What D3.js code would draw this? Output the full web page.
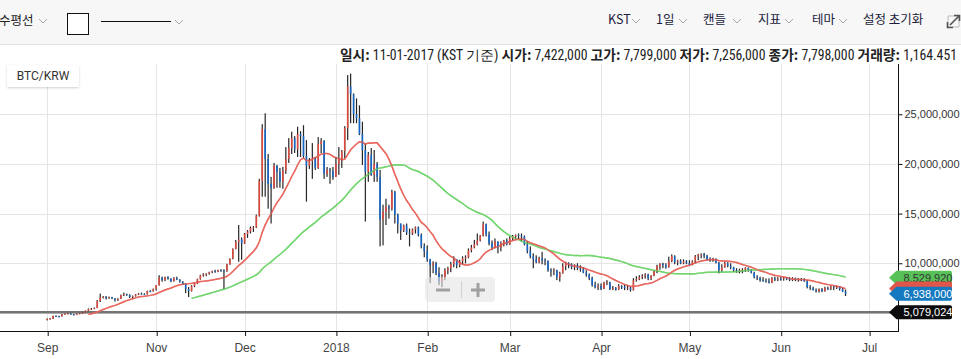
<!DOCTYPE html>
<html><head><meta charset="utf-8">
<script src="https://cdn.jsdelivr.net/npm/d3@7/dist/d3.min.js"></script>
<style>
html,body{margin:0;padding:0;background:#fff;overflow:hidden}
svg{display:block}
</style></head><body>
<svg id="c" width="961" height="359"></svg>
<script>
// ---------------- DATA (millions of KRW, daily, from 2017-09-25) ----------------
const startDate = "2017-09-25";
const open = [
4.30,4.40,4.42,4.70,4.68,4.66,4.88,4.92,4.95,4.86,
4.80,4.92,4.96,5.02,5.22,5.40,5.42,5.50,6.20,6.55,
6.62,6.48,6.58,6.45,6.30,6.42,6.80,6.90,6.80,6.60,
6.70,6.85,6.95,6.90,6.88,7.20,7.18,7.422,7.80,8.55,
8.30,8.60,8.45,8.20,8.50,8.35,8.15,7.90,7.40,7.20,
7.70,7.95,8.40,8.80,8.85,8.95,9.10,9.20,9.15,9.30,
9.25,9.20,9.90,10.45,11.45,12.15,12.40,12.00,12.95,13.20,
13.55,13.60,14.80,18.30,23.50,20.50,18.00,17.60,19.80,19.20,
18.20,19.30,20.50,21.60,22.60,21.50,23.00,22.80,20.80,19.80,
20.30,20.50,19.60,22.00,22.30,19.00,19.40,19.30,18.70,20.00,
20.50,21.30,23.60,27.80,27.00,25.00,24.60,23.00,21.40,19.20,
20.90,18.90,20.00,18.70,14.40,15.20,15.70,15.50,17.20,14.90,
14.00,13.30,13.80,13.10,13.00,13.40,13.60,12.85,11.70,11.20,
10.40,9.80,10.00,9.00,8.20,8.60,9.30,9.50,9.90,10.40,
9.80,10.20,10.50,10.60,11.30,11.60,11.90,12.30,12.80,13.90,
12.90,12.00,11.60,12.20,11.60,12.00,12.30,11.90,12.50,12.70,
12.85,12.80,12.70,11.90,11.20,10.70,10.40,10.10,10.50,10.30,
10.20,9.30,9.20,9.30,8.60,9.00,9.70,10.00,9.90,9.60,
9.80,9.50,9.40,9.05,8.85,8.50,7.80,7.60,7.70,7.45,
8.00,8.10,7.40,7.50,7.35,7.70,7.65,7.50,7.55,7.30,
8.30,8.40,8.60,8.70,8.85,8.50,8.75,9.20,9.70,9.95,
9.80,9.60,10.20,10.75,10.10,10.25,10.00,10.20,10.00,9.85,
10.20,10.70,10.85,10.90,10.75,10.40,10.30,10.40,10.05,9.30,
9.60,10.00,9.75,9.60,9.30,9.20,9.30,9.35,9.55,9.30,
9.05,8.60,8.50,8.30,8.25,8.20,8.05,8.50,8.35,8.45,
8.40,8.50,8.40,8.30,8.50,8.40,8.45,8.35,8.20,7.60,
7.50,7.30,7.20,7.40,7.20,7.50,7.45,7.65,7.60,7.65,
7.40,7.15];
const high = [
4.45,4.48,4.72,4.75,4.72,4.90,4.95,5.00,4.98,4.90,
4.95,5.00,5.05,5.25,5.45,5.50,5.55,6.30,6.95,6.70,
6.70,6.65,6.62,6.50,6.48,6.85,7.05,6.95,6.88,6.75,
6.90,7.00,7.05,6.98,7.25,7.30,7.45,7.799,8.80,8.65,
8.65,8.70,8.50,8.60,8.65,8.40,8.20,8.00,7.60,7.80,
8.00,8.45,8.85,9.00,9.00,9.15,9.25,9.35,9.35,9.40,
9.40,9.95,10.50,11.50,12.35,13.85,12.60,13.05,13.35,13.70,
13.75,14.90,18.50,24.00,25.10,21.00,18.70,20.10,19.90,19.60,
19.70,21.70,22.60,23.25,22.80,23.75,23.30,23.90,22.40,20.60,
22.10,20.70,22.70,22.60,22.40,19.70,19.60,19.70,20.70,21.70,
21.40,23.80,28.95,29.10,27.10,26.60,25.90,24.25,22.07,21.20,
21.60,21.40,20.20,19.40,15.90,16.50,15.90,17.40,17.30,15.00,
14.00,13.90,14.00,13.50,13.50,13.70,13.70,13.00,12.00,11.80,
10.45,10.20,10.15,9.60,8.90,9.50,9.65,10.15,10.70,10.40,
10.35,10.70,10.80,11.50,11.85,12.35,13.00,12.85,14.20,14.00,
13.20,12.30,12.50,12.20,12.20,12.35,12.50,12.70,12.85,12.90,
13.00,13.00,12.80,12.20,11.70,11.00,10.80,10.66,11.15,10.50,
10.30,9.50,9.50,9.35,9.15,10.00,10.15,10.10,10.00,9.90,
10.00,9.80,9.60,9.30,8.98,8.65,8.14,7.97,7.97,8.14,
8.30,8.14,7.70,7.60,7.90,7.80,7.85,7.81,7.65,8.50,
8.70,8.80,8.90,9.00,8.95,8.80,9.30,9.85,10.00,10.05,
10.00,10.66,10.90,10.80,10.35,10.40,10.40,10.32,10.30,10.30,
10.83,10.95,11.00,11.05,10.85,10.60,10.55,10.50,10.15,9.90,
10.15,10.10,9.99,9.65,9.50,9.45,9.50,9.60,9.55,9.40,
9.15,8.80,8.65,8.60,8.48,8.48,8.60,8.65,8.60,8.60,
8.60,8.60,8.60,8.60,8.55,8.50,8.50,8.50,8.30,7.80,
7.64,7.47,7.47,7.50,7.64,7.64,7.75,7.70,7.75,7.70,
7.50,7.35];
const low = [
4.25,4.35,4.40,4.60,4.55,4.64,4.82,4.88,4.82,4.75,
4.78,4.88,4.92,5.00,5.18,5.30,5.38,5.48,6.10,6.45,
6.35,6.42,6.40,6.15,6.20,6.40,6.70,6.72,6.50,6.45,
6.65,6.80,6.85,6.82,6.85,7.10,7.15,7.256,7.75,8.15,
8.20,8.35,8.10,8.15,8.30,8.05,7.80,7.00,6.60,7.15,
7.60,7.90,8.35,8.65,8.70,8.85,9.00,9.05,9.10,9.15,
7.40,9.15,9.85,10.40,11.40,10.15,10.35,11.95,12.55,13.00,
13.15,13.55,14.70,16.70,16.70,15.50,14.00,17.50,17.60,17.60,
17.50,19.00,20.10,21.00,21.10,20.70,20.70,20.60,16.20,19.50,
18.50,19.40,19.50,21.10,18.50,18.70,18.00,18.40,18.70,18.90,
19.60,20.60,22.40,24.10,24.10,24.10,22.90,19.90,14.20,18.20,
18.80,18.20,18.20,11.70,11.80,13.85,14.50,15.30,14.00,13.00,
12.35,13.15,12.85,11.70,12.85,13.00,12.70,11.50,10.60,10.15,
8.00,9.00,8.80,7.80,7.60,8.30,8.90,9.10,9.60,9.50,
9.60,9.90,10.00,10.50,11.10,11.50,11.80,12.20,12.70,12.70,
11.80,11.35,11.50,11.00,11.20,11.70,11.80,11.85,12.30,12.40,
12.40,12.20,11.80,11.00,10.50,9.50,10.00,10.00,9.90,9.80,
9.15,8.65,8.80,8.30,8.15,8.95,9.30,9.50,9.40,9.30,
9.30,9.15,9.00,8.65,8.30,7.65,7.47,7.30,7.30,7.40,
7.80,7.30,7.30,7.25,7.30,7.40,7.30,7.30,7.14,7.25,
8.15,8.30,8.40,8.45,8.30,8.30,8.70,9.00,9.35,9.50,
9.45,9.55,10.10,9.90,9.80,9.90,9.90,9.90,9.80,9.80,
10.00,10.30,10.50,10.50,10.30,10.15,10.15,9.99,8.98,9.15,
9.55,9.60,9.40,9.15,9.05,8.98,9.00,9.15,9.15,8.98,
8.48,8.31,8.14,8.14,8.05,7.97,8.00,8.20,8.20,8.25,
8.25,8.30,8.20,8.20,8.20,8.15,8.20,8.14,7.47,7.30,
7.25,7.05,7.05,7.10,7.14,7.30,7.30,7.30,7.40,7.25,
7.10,6.70];
const close = [
4.40,4.42,4.70,4.68,4.66,4.88,4.92,4.95,4.86,4.80,
4.92,4.96,5.02,5.22,5.40,5.42,5.50,6.20,6.55,6.62,
6.48,6.58,6.45,6.30,6.42,6.80,6.90,6.80,6.60,6.70,
6.85,6.95,6.90,6.88,7.20,7.18,7.42,7.798,8.55,8.30,
8.60,8.45,8.20,8.50,8.35,8.15,7.90,7.40,7.20,7.70,
7.95,8.40,8.80,8.85,8.95,9.10,9.20,9.15,9.30,9.25,
9.20,9.90,10.45,11.45,12.15,12.40,12.00,12.95,13.20,13.55,
13.60,14.80,18.30,23.50,20.50,18.00,17.60,19.80,19.20,18.20,
19.30,20.50,21.60,22.60,21.50,23.00,22.80,20.80,19.80,20.30,
20.50,19.60,22.00,22.30,19.00,19.40,19.30,18.70,20.00,20.50,
21.30,23.60,27.80,27.00,25.00,24.60,23.00,21.40,19.20,20.90,
18.90,20.00,18.70,14.40,15.20,15.70,15.50,17.20,14.90,14.00,
13.30,13.80,13.10,13.00,13.40,13.60,12.85,11.70,11.20,10.40,
9.80,10.00,9.00,8.20,8.60,9.30,9.50,9.90,10.40,9.80,
10.20,10.50,10.60,11.30,11.60,11.90,12.30,12.80,13.90,12.90,
12.00,11.60,12.20,11.60,12.00,12.30,11.90,12.50,12.70,12.85,
12.80,12.70,11.90,11.20,10.70,10.40,10.10,10.50,10.30,10.20,
9.30,9.20,9.30,8.60,9.00,9.70,10.00,9.90,9.60,9.80,
9.50,9.40,9.05,8.85,8.50,7.80,7.60,7.70,7.45,8.00,
8.10,7.40,7.50,7.35,7.70,7.65,7.50,7.55,7.30,8.30,
8.40,8.60,8.70,8.85,8.50,8.75,9.20,9.70,9.95,9.80,
9.60,10.20,10.75,10.10,10.25,10.00,10.20,10.00,9.85,10.20,
10.70,10.85,10.90,10.75,10.40,10.30,10.40,10.05,9.30,9.60,
10.00,9.75,9.60,9.30,9.20,9.30,9.35,9.55,9.30,9.05,
8.60,8.50,8.30,8.25,8.20,8.05,8.50,8.35,8.45,8.40,
8.50,8.40,8.30,8.50,8.40,8.45,8.35,8.20,7.60,7.50,
7.30,7.20,7.40,7.20,7.50,7.45,7.65,7.60,7.65,7.40,
7.15,6.938];

const xTickDates  = ["2017-09-25","2017-11-01","2017-12-01","2018-01-01","2018-02-01","2018-03-01","2018-04-01","2018-05-01","2018-06-01","2018-07-01"];
const xTickLabels = ["Sep","Nov","Dec","2018","Feb","Mar","Apr","May","Jun","Jul"];
const yGridValues = [5000000,10000000,15000000,20000000,25000000];
const yLabelValues = [10000000,15000000,20000000,25000000];
const maPeriods   = [15, 50];
const hLineValue  = 5079024;
const ma50TagValue = 8529920;
const lastCloseValue = 6938000;
const symbol = "BTC/KRW";
const hoverIndex = 37;
const hoverVolume = "1,164.451";
const toolbarLeft  = ["수평선"];
const toolbarRight = ["KST","1일","캔들","지표","테마"];
const resetLabel = "설정 초기화";

// ---------------- SETUP ----------------
const svg = d3.select("#c");
const W = 961, H = 359;
const P = {left:0, right:898, top:64, bottom:331};
const KR = "'Noto Sans CJK KR','Noto Sans',sans-serif";
const LS = "'Liberation Sans',Arial,sans-serif";

const parse = d3.utcParse("%Y-%m-%d");
const t0 = parse(startDate);
const dates = close.map((_, i) => d3.utcDay.offset(t0, i));
const data = dates.map((d, i) => ({d, o:open[i]*1e6, h:high[i]*1e6, l:low[i]*1e6, c:close[i]*1e6}));

const x = d3.scaleUtc().domain([parse("2017-09-25"), parse("2018-07-01")]).range([47.2, 869.1]);
const y = d3.scaleLinear().domain([0, 30000000]).range([362.6, 64.6]);

// toolbar
svg.append("rect").attr("x",0).attr("y",0).attr("width",W).attr("height",44).attr("fill","#f7f7f7");
svg.append("line").attr("x1",0).attr("x2",W).attr("y1",44.5).attr("y2",44.5).attr("stroke","#e2e2e2");

function chevron(cx, cy){
  svg.append("path").attr("d",`M${cx-4},${cy-2} L${cx},${cy+2} L${cx+4},${cy-2}`)
    .attr("fill","none").attr("stroke","#a8a8a8").attr("stroke-width",1);
}
svg.append("text").attr("x",-1).attr("y",25).attr("font-family",KR).attr("font-size",12.5).attr("fill","#222").text(toolbarLeft[0]);
chevron(43,21);
svg.append("rect").attr("x",67.5).attr("y",13.5).attr("width",21).attr("height",21).attr("fill","#fff").attr("stroke","#111").attr("stroke-width",1);
svg.append("line").attr("x1",101).attr("x2",171).attr("y1",21.5).attr("y2",21.5).attr("stroke","#111").attr("stroke-width",1);
chevron(179,22);

const trX = [608, 656, 703, 758, 812];
const trChev = [636, 683, 737, 789, 843];
toolbarRight.forEach((t,i)=>{
  svg.append("text").attr("x",trX[i]).attr("y",24).attr("font-family",KR).attr("font-size",12.5).attr("fill","#1c1c3c").text(t);
  chevron(trChev[i],21);
});
svg.append("text").attr("x",863).attr("y",24).attr("font-family",KR).attr("font-size",12.5).attr("fill","#1c1c3c").text(resetLabel);
// fullscreen icon
const fi = svg.append("g").attr("fill","none").attr("stroke","#555").attr("stroke-width",1.6);
fi.append("path").attr("d","M948,16 L948,27 L959,27 L959,16 Z").attr("stroke","#bbb").attr("stroke-width",1);
fi.append("path").attr("d","M954,15.5 L959.5,15.5 L959.5,21 M959,16 L950,25 M947.5,22 L947.5,27.5 L953,27.5");

// info line
const fmt = d3.format(",");
const fmtDate = d3.utcFormat("%m-%d-%Y");
const hv = data[hoverIndex];
const infoItems = [
  ["일시:", " " + fmtDate(hv.d) + " (KST 기준)"],
  ["시가:", " " + fmt(Math.round(hv.o))],
  ["고가:", " " + fmt(Math.round(hv.h))],
  ["저가:", " " + fmt(Math.round(hv.l))],
  ["종가:", " " + fmt(Math.round(hv.c))],
  ["거래량:", " " + hoverVolume]
];
const info = svg.append("text").attr("x",957).attr("y",59.5).attr("text-anchor","end")
  .attr("font-family",KR).attr("font-size",12).attr("fill","#222");
infoItems.forEach((it,i)=>{
  info.append("tspan").attr("font-weight","bold").text((i? "  ":"") + it[0]);
  info.append("tspan").attr("font-family","'Roboto Condensed','Liberation Sans Narrow','Roboto',sans-serif").text(it[1]);
});
const iw = info.node().getComputedTextLength();
info.attr("font-size", 12*617/iw);

// grid
const g = svg.append("g");
g.selectAll(".vg").data(xTickDates).join("line")
  .attr("x1",d=>Math.round(x(parse(d)))+0.5).attr("x2",d=>Math.round(x(parse(d)))+0.5)
  .attr("y1",P.top).attr("y2",P.bottom).attr("stroke","#e5e5e5");
g.selectAll(".hg").data(yGridValues).join("line")
  .attr("x1",P.left).attr("x2",P.right).attr("y1",d=>Math.round(y(d))+0.5).attr("y2",d=>Math.round(y(d))+0.5)
  .attr("stroke","#e5e5e5");

// clip
svg.append("clipPath").attr("id","clip").append("rect")
  .attr("x",P.left).attr("y",P.top).attr("width",P.right-P.left).attr("height",P.bottom-P.top);
const plot = svg.append("g").attr("clip-path","url(#clip)");

// horizontal drawing line
plot.append("line").attr("x1",P.left).attr("x2",P.right).attr("y1",y(hLineValue)).attr("y2",y(hLineValue))
  .attr("stroke","#747474").attr("stroke-width",2.5);

// moving averages
function sma(arr, n){ return arr.map((_, i) => i < n-1 ? null : d3.mean(arr.slice(i-n+1, i+1))); }
const closesKRW = data.map(d=>d.c);
const maColors = ["#e8665c", "#6fd46a"];
const maSeries = maPeriods.map(n => sma(closesKRW, n));
const line = d3.line().defined(d=>d[1]!=null).x(d=>x(d[0])).y(d=>y(d[1])).curve(d3.curveLinear);
[1,0].forEach(k=>{
  plot.append("path").datum(dates.map((d,i)=>[d, maSeries[k][i]]))
    .attr("d", line).attr("fill","none").attr("stroke",maColors[k]).attr("stroke-width",1.5).attr("stroke-opacity",0.9);
});

// candles
const cg = plot.append("g");
cg.selectAll(".w").data(data).join("rect")
  .attr("x",d=>x(d.d)-0.6).attr("width",1.2)
  .attr("y",d=>y(d.h)).attr("height",d=>Math.max(1,y(d.l)-y(d.h))).attr("fill","#262626");
cg.selectAll(".b").data(data).join("rect")
  .attr("x",d=>x(d.d)-0.8).attr("width",1.6)
  .attr("y",d=>y(Math.max(d.o,d.c))).attr("height",d=>Math.max(1,Math.abs(y(d.o)-y(d.c))))
  .attr("fill",d=>d.c>=d.o?"#db4a3f":"#1467c8");
// MA drawn over candles, lightly
[1,0].forEach(k=>{
  plot.append("path").datum(dates.map((d,i)=>[d, maSeries[k][i]]))
    .attr("d", line).attr("fill","none").attr("stroke",maColors[k]).attr("stroke-width",1.4).attr("stroke-opacity",0.75);
});

// axes
svg.append("line").attr("x1",P.left).attr("x2",P.right+0.5).attr("y1",P.bottom+0.5).attr("y2",P.bottom+0.5).attr("stroke","#111");
svg.append("line").attr("x1",P.right+0.5).attr("x2",P.right+0.5).attr("y1",P.top).attr("y2",P.bottom+1).attr("stroke","#111");

const xAxis = d3.axisBottom(x).tickValues(xTickDates.map(parse)).tickFormat((d,i)=>xTickLabels[i]).tickSize(5).tickPadding(7);
const xa = svg.append("g").attr("transform",`translate(0,${P.bottom})`).call(xAxis);
xa.select(".domain").remove();
xa.selectAll(".tick line").attr("stroke","#111").attr("transform","translate(0.5,0)");
xa.selectAll(".tick text").attr("font-family",LS).attr("font-size",12).attr("fill","#444");

const yAxis = d3.axisRight(y).tickValues(yLabelValues).tickFormat(d3.format(",")).tickSize(4).tickPadding(2);
const ya = svg.append("g").attr("transform",`translate(${P.right+0.5},0)`).call(yAxis);
ya.select(".domain").remove();
ya.selectAll(".tick line").attr("stroke","#111");
ya.selectAll(".tick text").attr("font-family",LS).attr("font-size",11).attr("fill","#333");

// price tags (MA15 tag sits under the last-close tag, its text hidden as in the reference)
const ma15Last = maSeries[0][maSeries[0].length-1];
const tags = [
  {v: ma50TagValue,  fill:"#58c158", color:"#333", label:true},
  {v: ma15Last,      fill:"#e0564b", color:"#fff", label:false},
  {v: lastCloseValue,fill:"#1579c0", color:"#fff", label:true},
  {v: hLineValue,    fill:"#0b0b0b", color:"#fff", label:true}
];
tags.forEach(t=>{
  const cy = y(t.v);
  svg.append("path").attr("d",`M889,${cy} L896.5,${cy-7} L950,${cy-7} Q952,${cy-7} 952,${cy-5} L952,${cy+5} Q952,${cy+7} 950,${cy+7} L896.5,${cy+7} Z`)
    .attr("fill",t.fill);
  if (t.label) svg.append("text").attr("x",903.5).attr("y",cy+4).attr("font-family",LS).attr("font-size",11)
    .attr("fill",t.color).text(fmt(Math.round(t.v)));
});

// symbol box
const defs = svg.append("defs");
const f = defs.append("filter").attr("id","sh").attr("x","-20%").attr("y","-30%").attr("width","140%").attr("height","170%");
f.append("feDropShadow").attr("dx",0).attr("dy",1).attr("stdDeviation",1.2).attr("flood-color","#000").attr("flood-opacity",0.18);
svg.append("rect").attr("x",7).attr("y",65).attr("width",72).attr("height",22).attr("fill","#fff").attr("filter","url(#sh)");
svg.append("text").attr("x",43).attr("y",80).attr("text-anchor","middle").attr("font-family","Roboto,'Liberation Sans',sans-serif")
  .attr("font-size",12).attr("fill","#333").text(symbol);

// zoom control
svg.append("rect").attr("x",425).attr("y",277).attr("width",70).attr("height",25).attr("rx",4)
  .attr("fill","#e4e4e4").attr("fill-opacity",0.6);
svg.append("line").attr("x1",461.5).attr("x2",461.5).attr("y1",281).attr("y2",298).attr("stroke","#d0d0d0");
svg.append("path").attr("d","M436,290 L450,290").attr("stroke","#a0a0a0").attr("stroke-width",3);
svg.append("path").attr("d","M471,290 L485,290 M478,283 L478,297").attr("stroke","#a0a0a0").attr("stroke-width",3);
</script>
</body></html>
